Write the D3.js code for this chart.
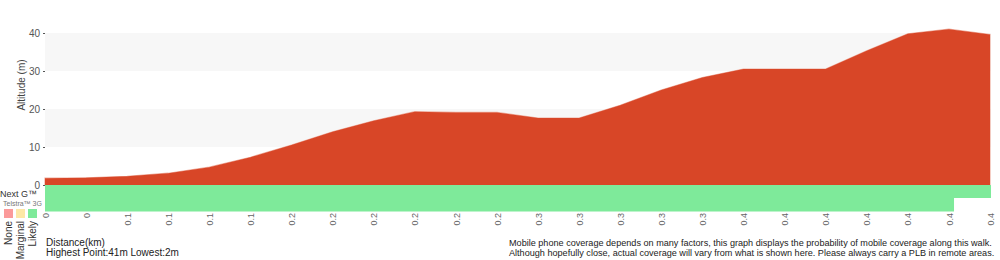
<!DOCTYPE html>
<html>
<head>
<meta charset="utf-8">
<script src="https://cdn.jsdelivr.net/npm/d3@7"></script>
<style>
  body { margin: 0; background: #fff; }
  svg { display: block; font-family: "Liberation Sans", Arial, sans-serif; }
</style>
</head>
<body>
<div id="chart"></div>
<script>
// distance tick labels (km), one per sample point
var distLabels = ['0', '0', '0.1', '0.1', '0.1', '0.1', '0.2', '0.2', '0.2', '0.2', '0.2', '0.2',
                  '0.3', '0.3', '0.3', '0.3', '0.3', '0.4', '0.4', '0.4', '0.4', '0.4', '0.4', '0.4']
// altitude (m) at each sample point
var altitude = [1.8, 1.9, 2.3, 3.1, 4.7, 7.3, 10.5, 14, 16.9, 19.3, 19.1, 19.1,
                17.6, 17.6, 21, 25, 28.3, 30.5, 30.5, 30.5, 35.3, 39.8, 41, 39.6]
var altTicks = [0, 10, 20, 30, 40]
// coverage segments: [from point, to point, level]
var nextGCoverage = [[0, 23, 'Likely']]
var telstra3GCoverage = [[0, 22.1, 'Likely']]
var levels = ['None', 'Marginal', 'Likely']
var levelColors = ['#fb9a9a', '#fde8a6', '#7eea9a']

var width = 1000, height = 260
var plotLeft = 45, plotRight = 990, plotTop = 33, zeroY = 185
var rowH = 13

var svg = d3.select('#chart').append('svg')
            .attr('width', width)
            .attr('height', height)

var x = d3.scaleLinear().domain([0, distLabels.length - 1]).range([plotLeft, plotRight])
var y = d3.scaleLinear().domain([0, 40]).range([zeroY, plotTop])
var color = d3.scaleOrdinal().domain(levels).range(levelColors)

// alternating grid bands
svg.selectAll('rect.band')
   .data([[30, 40], [10, 20]])
   .enter().append('rect')
   .attr('class', 'band')
   .attr('x', plotLeft)
   .attr('width', plotRight - plotLeft + 1)
   .attr('y', function(d) { return y(d[1]) })
   .attr('height', function(d) { return y(d[0]) - y(d[1]) })
   .attr('fill', '#f7f7f7')

var area = d3.area()
             .x(function(d, i) { return x(i) })
             .y0(zeroY)
             .y1(function(d) { return y(d) })

svg.append('path')
   .datum(altitude)
   .attr('d', area)
   .attr('fill', 'none')
   .attr('stroke', '#eeae9f')
   .attr('stroke-width', 1.2)

svg.append('path')
   .datum(altitude)
   .attr('d', area)
   .attr('fill', '#d84627')

// coverage rows
var rows = [nextGCoverage, telstra3GCoverage]
rows.forEach(function(segs, r) {
  svg.selectAll('rect.cov' + r)
     .data(segs)
     .enter().append('rect')
     .attr('class', 'cov' + r)
     .attr('x', function(d) { return x(d[0]) })
     .attr('width', function(d) { return x(d[1]) - x(d[0]) + 1 })
     .attr('y', zeroY + r * rowH)
     .attr('height', rowH + (r == 1 ? 0.5 : 0))
     .attr('fill', function(d) { return color(d[2]) })
})

// y axis
var yAxis = svg.append('g')
               .attr('transform', 'translate(' + plotLeft + ',0)')
               .call(d3.axisLeft(y).tickValues(altTicks).tickSize(2).tickPadding(3))
yAxis.select('.domain').remove()
yAxis.selectAll('line').attr('stroke', '#555')
yAxis.selectAll('text').attr('fill', '#555').style('font-size', '10px')

svg.append('text')
   .attr('transform', 'translate(25,' + 85 + ') rotate(-90)')
   .attr('text-anchor', 'middle')
   .attr('fill', '#444')
   .style('font-size', '10px')
   .text('Altitude (m)')

// x axis labels, rotated
var xAxis = svg.append('g')
               .attr('transform', 'translate(0,' + 211 + ')')
               .call(d3.axisBottom(x)
                       .tickValues(d3.range(distLabels.length))
                       .tickFormat(function(i) { return distLabels[i] })
                       .tickSize(0)
                       .tickPadding(2))
xAxis.select('.domain').remove()
xAxis.selectAll('text')
     .attr('transform', 'rotate(-90)')
     .attr('x', -2)
     .attr('y', 0)
     .attr('dy', '0.35em')
     .attr('text-anchor', 'end')
     .attr('fill', '#666')
     .style('font-size', '9px')

// row labels
svg.append('text').attr('x', 0).attr('y', 197).attr('fill', '#333')
   .style('font-size', '9px').text('Next G\u2122')
svg.append('text').attr('x', 3).attr('y', 206).attr('fill', '#777')
   .style('font-size', '7px').text('Telstra\u2122 3G')

// legend
var leg = svg.selectAll('g.leg')
             .data(levels)
             .enter().append('g')
             .attr('class', 'leg')
             .attr('transform', function(d, i) { return 'translate(' + (4 + i * 12) + ',209)' })
leg.append('rect')
   .attr('width', 9).attr('height', 9)
   .attr('fill', function(d) { return color(d) })
leg.append('text')
   .attr('transform', 'translate(8,12) rotate(-90)')
   .attr('text-anchor', 'end')
   .attr('fill', '#333')
   .style('font-size', '10px')
   .text(function(d) { return d })

// footer
svg.append('text').attr('x', 46).attr('y', 246).attr('fill', '#222')
   .style('font-size', '10px').text('Distance(km)')
svg.append('text').attr('x', 46).attr('y', 256).attr('fill', '#222')
   .style('font-size', '10px').text('Highest Point:41m Lowest:2m')
svg.append('text').attr('x', 509).attr('y', 246).attr('fill', '#222')
   .style('font-size', '9.1px')
   .text('Mobile phone coverage depends on many factors, this graph displays the probability of mobile coverage along this walk.')
svg.append('text').attr('x', 509).attr('y', 256).attr('fill', '#222')
   .style('font-size', '9.1px')
   .text('Although hopefully close, actual coverage will vary from what is shown here. Please always carry a PLB in remote areas.')
</script>
</body>
</html>
